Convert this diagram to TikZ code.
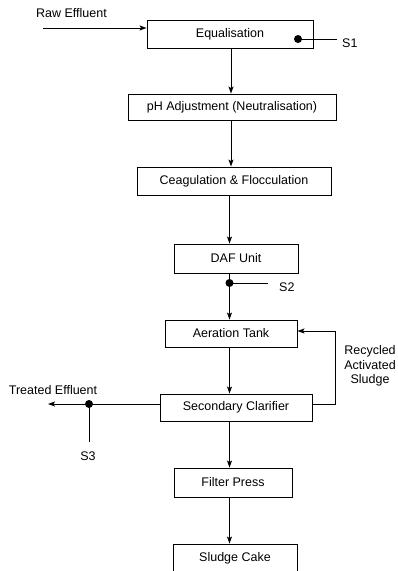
\documentclass[tikz,border=0pt]{standalone}
\usepackage{fontspec}
\setmainfont{Liberation Sans}
\usetikzlibrary{arrows.meta}
\begin{document}
\begin{tikzpicture}[x=1pt,y=-1pt,
  box/.style={draw,line width=0.9pt,minimum height=28pt,inner sep=0pt,font=\fontsize{12.5}{14.5}\selectfont},
  lbl/.style={font=\fontsize{12.5}{14.5}\selectfont,inner sep=0pt},
  flow/.style={line width=0.9pt,-{Stealth[length=7pt,width=5pt,inset=1.5pt]}},
  ln/.style={line width=0.9pt},
  dot/.style={circle,fill=black,inner sep=0pt,minimum size=8pt}]
\useasboundingbox (0,0) rectangle (398,571);
% boxes
\node[box,minimum width=166pt] (eq) at (230,34) {Equalisation};
\node[box,minimum width=208pt,minimum height=26pt] (ph) at (232,107) {pH Adjustment (Neutralisation)};
\node[box,minimum width=194pt] (cf) at (234,181) {Ceagulation \& Flocculation};
\node[box,minimum width=124pt,minimum height=29pt] (daf) at (236,258.5) {DAF Unit};
\node[box,minimum width=132pt,minimum height=27pt] (aer) at (231,333.5) {Aeration Tank};
\node[box,minimum width=152pt,minimum height=27pt] (cl) at (236,407.5) {Secondary Clarifier};
\node[box,minimum width=118pt,minimum height=29pt] (fp) at (233,482.5) {Filter Press};
\node[box,minimum width=124pt] (sc) at (235,558) {Sludge Cake};
% axis coordinates
\coordinate (ax1) at (231,0);
\coordinate (ax2) at (229.5,0);
% labels
\node[lbl] (raw) at (71.5,13.5) {Raw Effluent};
\node[lbl,anchor=west] (s1) at (342,43) {S1};
\node[lbl,anchor=west] (s2) at (279,287) {S2};
\node[lbl] (te) at (53,390) {Treated Effluent};
\node[lbl] (s3) at (88,456) {S3};
\node[lbl,align=center] (ras) at (370,366) {Recycled\\Activated\\Sludge};
% connectors
\coordinate (rawstart) at (43,28);
\draw[flow] (rawstart) -- (rawstart -| eq.west);
\node[dot] (d1) at (298,39) {};
\coordinate (s1end) at (337,39);
\draw[ln] (d1.center) -- (s1end);
\draw[flow] (eq.south -| ax1) -- (ph.north -| ax1);
\draw[flow] (ph.south -| ax1) -- (cf.north -| ax1);
\draw[flow] (cf.south -| ax2) -- (daf.north -| ax2);
\node[dot] (d2) at (229.5,283) {};
\coordinate (s2end) at (268,283);
\draw[ln] (d2.center) -- (s2end);
\draw[flow] (daf.south -| ax2) -- (aer.north -| ax2);
\draw[flow] (aer.south -| ax2) -- (cl.north -| ax2);
\coordinate (rcx) at (335,404);
\coordinate (rcy) at (335,331);
\draw[flow] (cl.east |- rcx) -- (rcx) -- (rcy) -- (rcy -| aer.east);
\coordinate (teend) at (48,404);
\draw[flow] (cl.west |- teend) -- (teend);
\node[dot] (d3) at (89,404) {};
\coordinate (s3end) at (89,442);
\draw[ln] (d3.center) -- (s3end);
\draw[flow] (cl.south -| ax2) -- (fp.north -| ax2);
\draw[flow] (fp.south -| ax2) -- (sc.north -| ax2);
\end{tikzpicture}
\end{document}
